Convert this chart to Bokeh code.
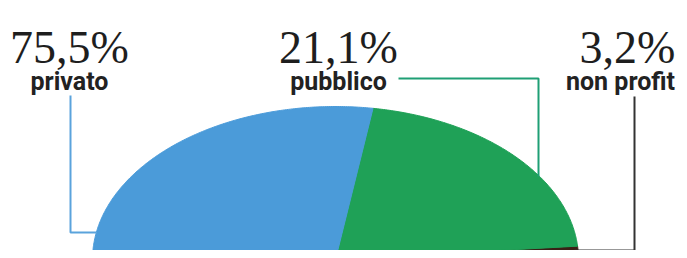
import math
from bokeh.plotting import figure
from bokeh.models import Range1d, ColumnDataSource
from bokeh.core.properties import value
from bokeh.embed import file_html
from bokeh.resources import INLINE

# ---- data ----
categories = ["privato", "pubblico", "non profit"]
shares = [75.5, 21.1, 3.2]
colors = ["#4b9bd9", "#1fa157", "#3a2016"]
line_colors = ["#5aa3dc", "#1f9f75", "#333333"]

# ---- layout (picture pixel coordinates) ----
W, H = 679, 250
p = figure(width=W, height=H, output_backend="svg", toolbar_location=None,
           x_range=Range1d(0, W), y_range=Range1d(H, 0),
           min_border=0, outline_line_color=None)
p.axis.visible = False
p.grid.visible = False
p.background_fill_color = "white"
p.border_fill_color = "white"

cx, cy, rx, ry = 335, 259, 243, 153
end_of_small = 5.0  # degrees where the non-profit slice meets the public slice

# slices drawn counter-clockwise: non profit, pubblico, privato
order = [2, 1, 0]
total = sum(shares)
a = end_of_small - shares[2] / total * 360.0
xs, ys, fills = [], [], []
for i in order:
    span = shares[i] / total * 360.0
    n = max(8, int(span * 2))
    px, py = [cx], [cy]
    for k in range(n + 1):
        t = math.radians(a + span * k / n)
        px.append(cx + rx * math.cos(t))
        py.append(cy - ry * math.sin(t))
    xs.append(px)
    ys.append(py)
    fills.append(colors[i])
    a += span

p.patches(xs=xs, ys=ys, fill_color=fills, line_color=fills, line_width=1)

# leader lines
leaders = [
    ([70, 70, 96], [95, 232, 232]),
    ([398, 538, 538], [78, 78, 176]),
    ([634, 634, 574], [96, 250, 250]),
]
for (lx, ly), lc in zip(leaders, line_colors):
    p.line(lx, ly, line_color=lc, line_width=2)

# labels
pct_text = [f"{v:.1f}".replace(".", ",") + "%" for v in shares]
pct_x = [69, 338, 627]
cat_x = [69, 338, 620]
src = ColumnDataSource(dict(px=pct_x, cx=cat_x, yp=[47] * 3, yl=[81] * 3,
                            pct=pct_text, cat=categories))
p.text(x="px", y="yp", text="pct", source=src, text_align="center",
       text_baseline="alphabetic", text_font=value("Liberation Serif"),
       text_font_size="46px", text_color="#1e1e1e")
p.text(x="cx", y="yl", text="cat", source=src, text_align="center",
       text_baseline="alphabetic", text_font=value("Roboto"),
       text_font_style="bold", text_font_size="25px", text_color="#222222")

open("out.html", "w").write(file_html(p, INLINE))
